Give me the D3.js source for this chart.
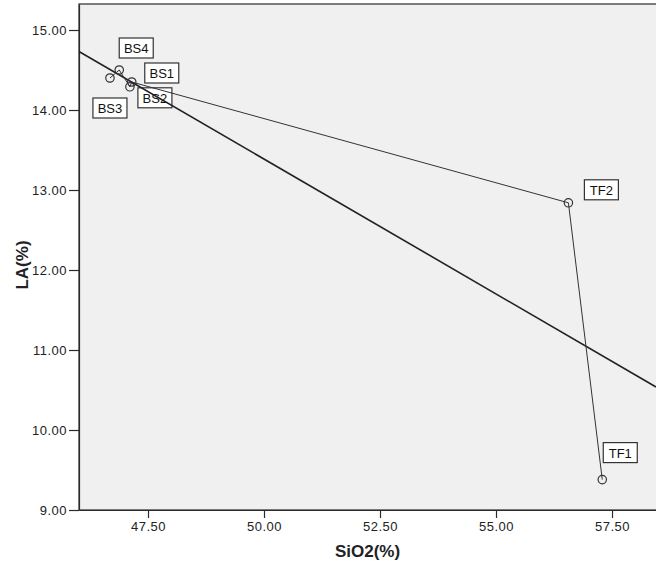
<!DOCTYPE html>
<html>
<head>
<meta charset="utf-8">
<script src="https://cdn.jsdelivr.net/npm/d3@7"></script>
<style>
  html, body { margin: 0; padding: 0; background: #fff; }
  svg { display: block; }
  text { font-family: "Liberation Sans", Arial, sans-serif; }
</style>
</head>
<body>
<script>
// ---- data ----
const sampleNames = ["BS1", "BS2", "BS3", "BS4", "TF1", "TF2"];
const sio2Values  = [47.15, 47.11, 46.68, 46.88, 57.29, 56.56];
const laValues    = [14.35, 14.29, 14.40, 14.50, 9.38, 12.84];
const xTickValues = [47.5, 50, 52.5, 55, 57.5];
const yTickValues = [9, 10, 11, 12, 13, 14, 15];
const xTitle = "SiO2(%)";
const yTitle = "LA(%)";

// ---- layout ----
const W = 656, H = 569;
const plot = { left: 79, top: 4, right: 656, bottom: 510 };
const labelOffsets = { BS1: [13, -19], BS2: [8, 1], BS3: [-17, 20], BS4: [0, -32], TF1: [1, -37], TF2: [16, -23] };

const points = sampleNames.map((n, i) => ({ name: n, x: sio2Values[i], y: laValues[i] }));

const x = d3.scaleLinear().domain([46.013, 58.448]).range([plot.left, plot.right]);
const y = d3.scaleLinear().domain([9, 15.325]).range([plot.bottom, plot.top]);

const svg = d3.select("body").append("svg").attr("width", W).attr("height", H);

svg.append("defs").append("clipPath").attr("id", "clip")
  .append("rect").attr("x", plot.left).attr("y", plot.top)
  .attr("width", plot.right - plot.left).attr("height", plot.bottom - plot.top);

// plot background
svg.append("rect")
  .attr("x", plot.left).attr("y", plot.top)
  .attr("width", plot.right - plot.left + 2).attr("height", plot.bottom - plot.top)
  .attr("fill", "#f0f0f0").attr("stroke", "#2b2b2b").attr("stroke-width", 1.2);

// axes
const xAxis = d3.axisBottom(x).tickValues(xTickValues).tickFormat(d3.format(".2f")).tickSize(8).tickSizeOuter(0);
const yAxis = d3.axisLeft(y).tickValues(yTickValues).tickFormat(d3.format(".2f")).tickSize(10).tickSizeOuter(0);

const gx = svg.append("g").attr("transform", `translate(0,${plot.bottom})`).call(xAxis);
const gy = svg.append("g").attr("transform", `translate(${plot.left},0)`).call(yAxis);
[gx, gy].forEach(g => {
  g.select(".domain").attr("stroke", "#2b2b2b").attr("stroke-width", 1.2);
  g.selectAll(".tick line").attr("stroke", "#2b2b2b").attr("stroke-width", 1.2);
  g.selectAll(".tick text").attr("fill", "#222").style("font-size", "13px")
    .style("font-family", '"Liberation Sans", Arial, sans-serif').style("letter-spacing", "0.5px");
});
gx.selectAll(".tick text").attr("dy", "0.95em").attr("y", 9);
gy.selectAll(".tick text").attr("x", -12);

// axis titles
svg.append("text").attr("x", (plot.left + plot.right) / 2).attr("y", 557)
  .attr("text-anchor", "middle").attr("font-weight", "bold").attr("font-size", 17)
  .attr("fill", "#222").text(xTitle);
svg.append("text").attr("transform", `translate(28,265) rotate(-90)`)
  .attr("text-anchor", "middle").attr("font-weight", "bold").attr("font-size", 17)
  .attr("fill", "#222").text(yTitle);

// labels (drawn under lines)
const lab = svg.append("g");
points.forEach(p => {
  const o = labelOffsets[p.name];
  const bx = x(p.x) + o[0], by = y(p.y) + o[1];
  lab.append("rect").attr("x", bx).attr("y", by).attr("width", 34).attr("height", 20)
    .attr("fill", "#fff").attr("stroke", "#333").attr("stroke-width", 1.2);
  lab.append("text").attr("x", bx + 17).attr("y", by + 15).attr("text-anchor", "middle")
    .attr("font-size", 13).attr("fill", "#111").text(p.name);
});

const gLines = svg.append("g").attr("clip-path", "url(#clip)");

// linear regression fit
const mx = d3.mean(points, d => d.x), my = d3.mean(points, d => d.y);
const sxy = d3.sum(points, d => (d.x - mx) * (d.y - my));
const sxx = d3.sum(points, d => (d.x - mx) * (d.x - mx));
const slope = sxy / sxx, intercept = my - slope * mx;
const [x0, x1] = x.domain();
gLines.append("line")
  .attr("x1", x(x0)).attr("y1", y(intercept + slope * x0))
  .attr("x2", x(x1)).attr("y2", y(intercept + slope * x1))
  .attr("stroke", "#222").attr("stroke-width", 1.6);

// interpolation line through points sorted by x
const sorted = points.slice().sort((a, b) => a.x - b.x);
gLines.append("path").datum(sorted)
  .attr("d", d3.line().x(d => x(d.x)).y(d => y(d.y)))
  .attr("fill", "none").attr("stroke", "#333").attr("stroke-width", 1);

// markers
svg.append("g").selectAll("circle").data(points).join("circle")
  .attr("cx", d => x(d.x)).attr("cy", d => y(d.y)).attr("r", 4.2)
  .attr("fill", "none").attr("stroke", "#333").attr("stroke-width", 1.2);
</script>
</body>
</html>
